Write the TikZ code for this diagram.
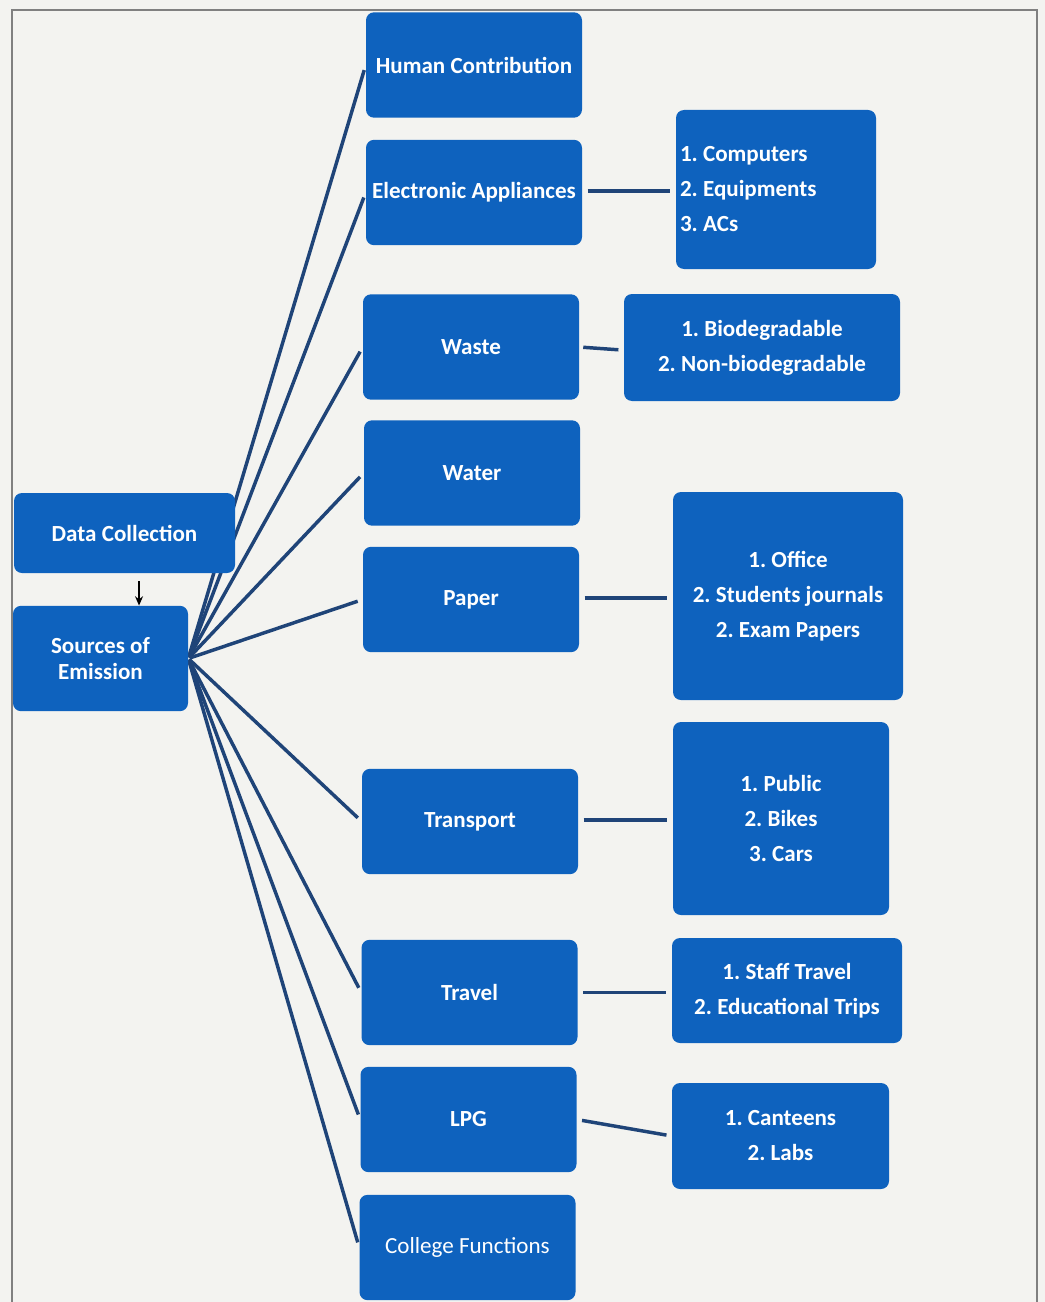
\documentclass[tikz,border=0pt]{standalone}
\usepackage{fontspec}
\setmainfont{Carlito}
\usepackage{tikz}
\usetikzlibrary{backgrounds, arrows.meta}

\definecolor{boxblue}{RGB}{14,98,190}
\definecolor{linkblue}{RGB}{31,68,120}
\definecolor{pagegray}{RGB}{243,243,240}

\tikzset{
	box/.style={rectangle, rounded corners=6pt, fill=boxblue, text=white, font=\fontsize{17.3}{19}\selectfont\bfseries\frenchspacing, align=center, inner sep=2pt, minimum width=162pt, minimum height=79pt},
	listbox/.style={box, font=\fontsize{17.3}{26.25}\selectfont\bfseries\frenchspacing},
	link/.style={draw=linkblue, line width=2.6pt, shorten <=1pt, shorten >=4pt},
}

\begin{document}
\begin{tikzpicture}[x=0.75pt,y=-0.75pt]
	\useasboundingbox (0,0) rectangle (1045,1302);
	
	%left boxes
	\node[box,minimum width=165.75pt,minimum height=60pt] (data) at (124.5,533) {Data Collection};
	\node[box,minimum width=131.25pt] (sources) at (100.5,658.5) {Sources of\\Emission};
	
	%sources
	\node[box] (human)     at (474,65)     {Human Contribution};
	\node[box] (elec)      at (474,192.5)  {Electronic Appliances};
	\node[box] (waste)     at (471,347)    {Waste};
	\node[box] (water)     at (472,473)    {Water};
	\node[box] (paper)     at (471,599.5)  {Paper};
	\node[box] (transport) at (470,821.5)  {Transport};
	\node[box] (travel)    at (469.5,992.5){Travel};
	\node[box] (lpg)       at (468.5,1119.5){LPG};
	\node[box,font=\fontsize{17.3}{19}\selectfont] (college) at (467.5,1247.5) {College Functions};
	
	%lists
	\node[listbox,minimum width=150pt,minimum height=119.25pt,align=flush left,text width=144pt] (devices) at (776,189.5) {1. Computers\\2. Equipments\\3. ACs};
	\node[listbox,minimum width=207pt,minimum height=80.25pt]    (bio)      at (762,347.5)  {1. Biodegradable\\2. Non-biodegradable};
	\node[listbox,minimum width=172.5pt,minimum height=156pt]    (office)   at (788,596)    {1. Office\\2. Students journals\\2. Exam Papers};
	\node[listbox,minimum width=162pt,minimum height=144.75pt]   (vehicles) at (781,818.5)  {1. Public\\2. Bikes\\3. Cars};
	\node[listbox,minimum width=172.5pt,minimum height=78.75pt]  (trips)    at (787,990.5)  {1. Staff Travel\\2. Educational Trips};
	\node[listbox,minimum width=162.75pt,minimum height=79.5pt]  (canteens) at (780.5,1136) {1. Canteens\\2. Labs};
	
	%arrow
	\draw[-{Stealth[length=7pt,width=6pt]},line width=1pt] ([xshift=10.9pt,yshift=-6pt]data.south) -- ([xshift=10.9pt]data.south |- sources.north);
	
	\begin{scope}[on background layer]
		%page
		\fill[pagegray] (0,0) rectangle (1045,1302);
		\draw[gray,line width=0.8pt] (12,1302) -- (12,10) -- (1037,10) -- (1037,1302);
		
		%links
		\foreach \n in {human,elec,waste,water,paper,transport,travel,lpg,college}
			\draw[link] (sources.east) -- (\n.west);
		\draw[link,shorten <=4pt] ([yshift=1pt]elec.east) -- ([yshift=1pt]elec.east -| devices.west);
		\draw[link,shorten <=3pt] (waste.east) -- ([yshift=-2pt]bio.west);
		\draw[link,shorten <=4pt] ([yshift=1pt]paper.east) -- ([yshift=1pt]paper.east -| office.west);
		\draw[link,shorten <=4pt] ([yshift=1pt]transport.east) -- ([yshift=1pt]transport.east -| vehicles.west);
		\draw[link,shorten <=4pt] (travel.east) -- (travel.east -| trips.west);
		\draw[link,shorten <=4pt] (lpg.east) -- (canteens.west);
	\end{scope}
	
	%\draw[help lines] (0,0) grid (1045,1302);
\end{tikzpicture}
\end{document}
